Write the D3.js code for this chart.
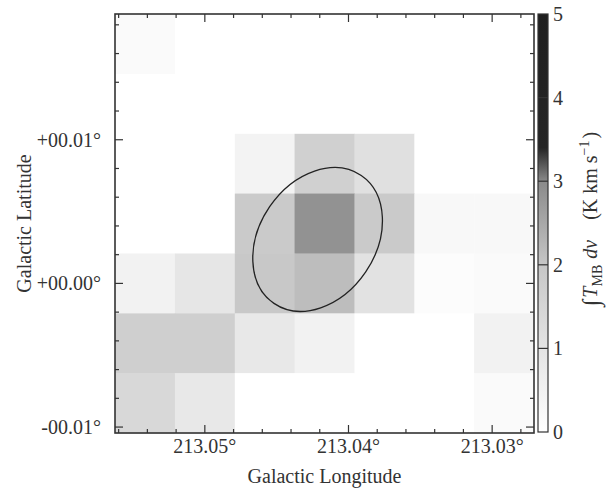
<!DOCTYPE html>
<html>
<head>
<meta charset="utf-8">
<script src="https://cdn.jsdelivr.net/npm/d3@7"></script>
<style>
  body { margin: 0; background: #fff; }
</style>
</head>
<body>
<svg width="615" height="490"></svg>
<script>
// Pixel centres of the map (15" cells)
const lonCenters = [213.05417, 213.05, 213.04583, 213.04167, 213.0375, 213.03333, 213.02917];
const latCenters = [0.01667, 0.0125, 0.00833, 0.00417, 0, -0.00417, -0.00833];
const cellSize = 0.0041667;

// Integrated intensity (K km/s), rows top to bottom
const intensity = [
  [0.20, 0, 0, 0, 0, 0, 0],
  [0, 0, 0, 0, 0, 0, 0],
  [0, 0, 0.44, 1.67, 1.13, 0, 0],
  [0, 0, 1.87, 2.87, 1.87, 0.26, 0.26],
  [0.48, 0.93, 1.93, 2.15, 1.07, 0.11, 0.19],
  [1.70, 1.70, 0.85, 0.48, 0, 0, 0.48],
  [1.40, 0.85, 0, 0, 0, 0, 0.19]
];

// Source ellipse (deg); angle from north towards decreasing longitude
const ellipse = { lon: 213.04215, lat: 0.00306, major: 0.00539, minor: 0.00404, angle: 34.3 };

// tick labels
const lonTicks = [213.05, 213.04, 213.03];
const lonTickLabels = ["213.05°", "213.04°", "213.03°"];
const latTicks = [0.01, 0, -0.01];
const latTickLabels = ["+00.01°", "+00.00°", "-00.01°"];
const cbTicks = [0, 1, 2, 3, 4, 5];

// grey map used by the colour bar
const cmapValues = [0, 1, 2, 3, 3.4, 5];
const cmapColors = ["#ffffff", "#e4e4e4", "#c6c6c6", "#8a8a8a", "#252525", "#1f1f1f"];

const serif = "Liberation Serif";
const ink = "#333";

var svg = d3.select("svg"),
    margin = {top: 14, left: 115},
    size = 419;

var x = d3.scaleLinear()
    .domain([lonCenters[0] + cellSize / 2, lonCenters[6] - cellSize / 2])
    .range([margin.left, margin.left + size]);
var y = d3.scaleLinear()
    .domain([latCenters[6] - cellSize / 2, latCenters[0] + cellSize / 2])
    .range([margin.top + size, margin.top]);
var color = d3.scaleLinear().domain(cmapValues).range(cmapColors).clamp(true);

// cells
var cells = [];
intensity.forEach(function(row, i) {
  row.forEach(function(v, j) {
    cells.push({lon: lonCenters[j], lat: latCenters[i], value: v});
  });
});

svg.append("g").selectAll("rect")
  .data(cells)
  .enter().append("rect")
  .attr("x", d => x(d.lon + cellSize / 2))
  .attr("y", d => y(d.lat + cellSize / 2))
  .attr("width", d => x(d.lon - cellSize / 2) - x(d.lon + cellSize / 2) + 0.5)
  .attr("height", d => y(d.lat - cellSize / 2) - y(d.lat + cellSize / 2) + 0.5)
  .attr("fill", d => color(d.value));

// ellipse
var pxPerDeg = (x(213.04) - x(213.05)) / 0.01;
svg.append("ellipse")
  .attr("transform", "translate(" + x(ellipse.lon) + "," + y(ellipse.lat) + ") rotate(" + ellipse.angle + ")")
  .attr("rx", ellipse.minor * pxPerDeg)
  .attr("ry", ellipse.major * pxPerDeg)
  .attr("fill", "none")
  .attr("stroke", "#222")
  .attr("stroke-width", 1.3);

// inward ticks on all four sides
var minorLon = d3.range(213.056, 213.0269, -0.002),
    minorLat = d3.range(-0.01, 0.0188, 0.002);
var tk = svg.append("g").attr("stroke", ink).attr("stroke-width", 1.2);
function isMajor(v) { return Math.abs(v * 100 - Math.round(v * 100)) < 1e-6; }
minorLon.forEach(function(v) {
  var L = isMajor(v) ? 8 : 4;
  tk.append("line").attr("x1", x(v)).attr("x2", x(v)).attr("y1", margin.top + size).attr("y2", margin.top + size - L);
  tk.append("line").attr("x1", x(v)).attr("x2", x(v)).attr("y1", margin.top).attr("y2", margin.top + L);
});
minorLat.forEach(function(v) {
  var L = isMajor(v) ? 8 : 4;
  tk.append("line").attr("y1", y(v)).attr("y2", y(v)).attr("x1", margin.left).attr("x2", margin.left + L);
  tk.append("line").attr("y1", y(v)).attr("y2", y(v)).attr("x1", margin.left + size).attr("x2", margin.left + size - L);
});

// frame
svg.append("rect")
  .attr("x", margin.left).attr("y", margin.top)
  .attr("width", size).attr("height", size)
  .attr("fill", "none").attr("stroke", ink).attr("stroke-width", 1.6);

function label(sel) {
  return sel.attr("font-family", serif).attr("font-size", 20).attr("fill", ink);
}

// tick labels
svg.append("g").selectAll("text")
  .data(lonTicks)
  .enter().append("text")
  .attr("x", d => x(d))
  .attr("y", 453)
  .attr("text-anchor", "middle")
  .call(label)
  .text((d, i) => lonTickLabels[i]);

svg.append("g").selectAll("text")
  .data(latTicks)
  .enter().append("text")
  .attr("x", 101)
  .attr("y", d => y(d) + 7)
  .attr("text-anchor", "end")
  .call(label)
  .text((d, i) => latTickLabels[i]);

// axis titles
svg.append("text")
  .attr("x", margin.left + size / 2)
  .attr("y", 483)
  .attr("text-anchor", "middle")
  .call(label)
  .text("Galactic Longitude");

svg.append("text")
  .attr("transform", "translate(31," + (margin.top + size / 2) + ") rotate(-90)")
  .attr("text-anchor", "middle")
  .call(label)
  .text("Galactic Latitude");

// colour bar
var cb = {x: 538, w: 10};
var cbScale = d3.scaleLinear().domain([0, 5]).range([margin.top + size - 1, margin.top]);
var grad = svg.append("defs").append("linearGradient")
  .attr("id", "cbar").attr("x1", 0).attr("x2", 0).attr("y1", 1).attr("y2", 0);
grad.selectAll("stop")
  .data(cmapValues)
  .enter().append("stop")
  .attr("offset", d => d / 5)
  .attr("stop-color", d => color(d));

svg.append("rect")
  .attr("x", cb.x).attr("y", cbScale(5))
  .attr("width", cb.w).attr("height", cbScale(0) - cbScale(5))
  .attr("fill", "url(#cbar)")
  .attr("stroke", ink).attr("stroke-width", 1.2);

svg.append("g").selectAll("line")
  .data(cbTicks.slice(1, 5))
  .enter().append("line")
  .attr("x1", cb.x).attr("x2", cb.x + cb.w)
  .attr("y1", d => cbScale(d)).attr("y2", d => cbScale(d))
  .attr("stroke", ink).attr("stroke-width", 1.2);

svg.append("g").selectAll("text")
  .data(cbTicks)
  .enter().append("text")
  .attr("x", 553)
  .attr("y", d => cbScale(d) + 7)
  .call(label)
  .text(d => d);

// colour bar title, rotated
var cbTitle = svg.append("text")
  .attr("transform", "translate(597,219) rotate(-90)")
  .attr("text-anchor", "middle")
  .call(label);
cbTitle.append("tspan").attr("font-size", 24).attr("dy", 2).text("\u222B");
cbTitle.append("tspan").attr("font-style", "italic").attr("dx", 2).attr("dy", -2).text("T");
cbTitle.append("tspan").attr("dy", 5).attr("font-size", 14).text("MB");
cbTitle.append("tspan").attr("dy", -5).attr("dx", 6).attr("font-style", "italic").text("dv");
cbTitle.append("tspan").attr("dx", 20).text("(K km s");
cbTitle.append("tspan").attr("dy", -8).attr("font-size", 14).text("\u22121");
cbTitle.append("tspan").attr("dy", 8).attr("dx", 2).text(")");
</script>
</body>
</html>
